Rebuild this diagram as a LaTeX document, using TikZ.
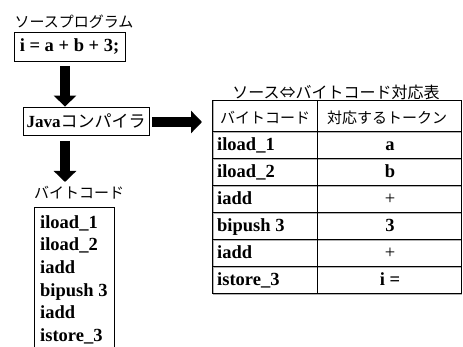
\documentclass[tikz,border=0pt]{standalone}
\usepackage{fontspec}
\setmainfont{Liberation Serif}
\newfontfamily\jp{Noto Sans CJK JP}
\usetikzlibrary{arrows.meta}
\begin{document}
\begin{tikzpicture}[x=1pt,y=-1pt,
  jlab/.style={font=\jp\fontsize{15}{18}\selectfont, inner sep=0pt},
  codetxt/.style={font=\bfseries\fontsize{18.5}{22}\selectfont, inner sep=0pt, anchor=base west},
  celltxt/.style={font=\bfseries\fontsize{18.5}{22}\selectfont, inner sep=0pt, anchor=base},
  box/.style={draw, line width=0.8pt, inner sep=0pt},
  blk/.style={line width=10pt, -{Triangle[width=22pt,length=11pt]}},
  tline/.style={line width=0.9pt},
  tshadow/.style={line width=0.8pt, gray!60},
]
\useasboundingbox (0,0) rectangle (463,347);

% source program
\node[jlab] (srclab) at (74,22) {ソースプログラム};
\node[box, minimum width=111pt, minimum height=29pt,
      font=\bfseries\fontsize{18.5}{22}\selectfont] (src) at (69.5,46.5) {i = a + b + 3;};

% compiler
\node[box, minimum width=126pt, minimum height=28pt] (java) at (86,121)
  {{\bfseries\fontsize{17}{20}\selectfont Java}{\jp\fontsize{17}{20}\selectfont コンパイラ}};

% bytecode
\node[jlab] (bclab) at (79,193) {バイトコード};
\node[box, minimum width=80pt, minimum height=150pt, anchor=north west] (bcbox) at (34,207) {};
\node[codetxt] (b1) at (40,228.5) {iload\_1};
\node[codetxt] (b2) at (40,251) {iload\_2};
\node[codetxt] (b3) at (40,273.5) {iadd};
\node[codetxt] (b4) at (40,296) {bipush 3};
\node[codetxt] (b5) at (40,318.5) {iadd};
\node[codetxt] (b6) at (40,341) {istore\_3};

% arrows
\coordinate (a1s) at (65,66);
\draw[blk] (a1s) -- (java.north -| a1s);
\coordinate (a2s) at (65,141);
\coordinate (a2e) at (65,182);
\draw[blk] (a2s) -- (a2e);
\coordinate (a3e) at (202,122);
\draw[blk, shorten <=3pt] (java.east |- a3e) -- (a3e);

% table title
\node[font=\jp\fontsize{16}{19}\selectfont, inner sep=0pt] (ttl) at (336,92) {ソース⇔バイトコード対応表};

% table grid
\foreach \yy in {131,158,185,212,239,266,293}
  \draw[tshadow] (213,\yy+1) -- (461.5,\yy+1);
\draw[tshadow] (213.2,100) -- (213.2,294);
\draw[tline] (212,100) rectangle (461.5,293);
\draw[tline] (317,100) -- (317,293);
\foreach \yy in {131,158,185,212,239,266}
  \draw[tline] (212,\yy) -- (461.5,\yy);

% header
\node[jlab] (h1) at (265,118) {バイトコード};
\node[jlab] (h2) at (387,118) {対応するトークン};

% rows
\node[celltxt, anchor=base west] (r1a) at (217,151) {iload\_1};
\node[celltxt, anchor=base west] (r2a) at (217,178) {iload\_2};
\node[celltxt, anchor=base west] (r3a) at (217,205) {iadd};
\node[celltxt, anchor=base west] (r4a) at (217,232) {bipush 3};
\node[celltxt, anchor=base west] (r5a) at (217,259) {iadd};
\node[celltxt, anchor=base west] (r6a) at (217,286) {istore\_3};

\node[celltxt] (r1b) at (390,151) {a};
\node[celltxt] (r2b) at (390,178) {b};
\node[celltxt, font=\fontsize{18.5}{22}\selectfont] (r3b) at (390,205) {+};
\node[celltxt] (r4b) at (390,232) {3};
\node[celltxt, font=\fontsize{18.5}{22}\selectfont] (r5b) at (390,259) {+};
\node[celltxt] (r6b) at (390,286) {i =};
\end{tikzpicture}
\end{document}
